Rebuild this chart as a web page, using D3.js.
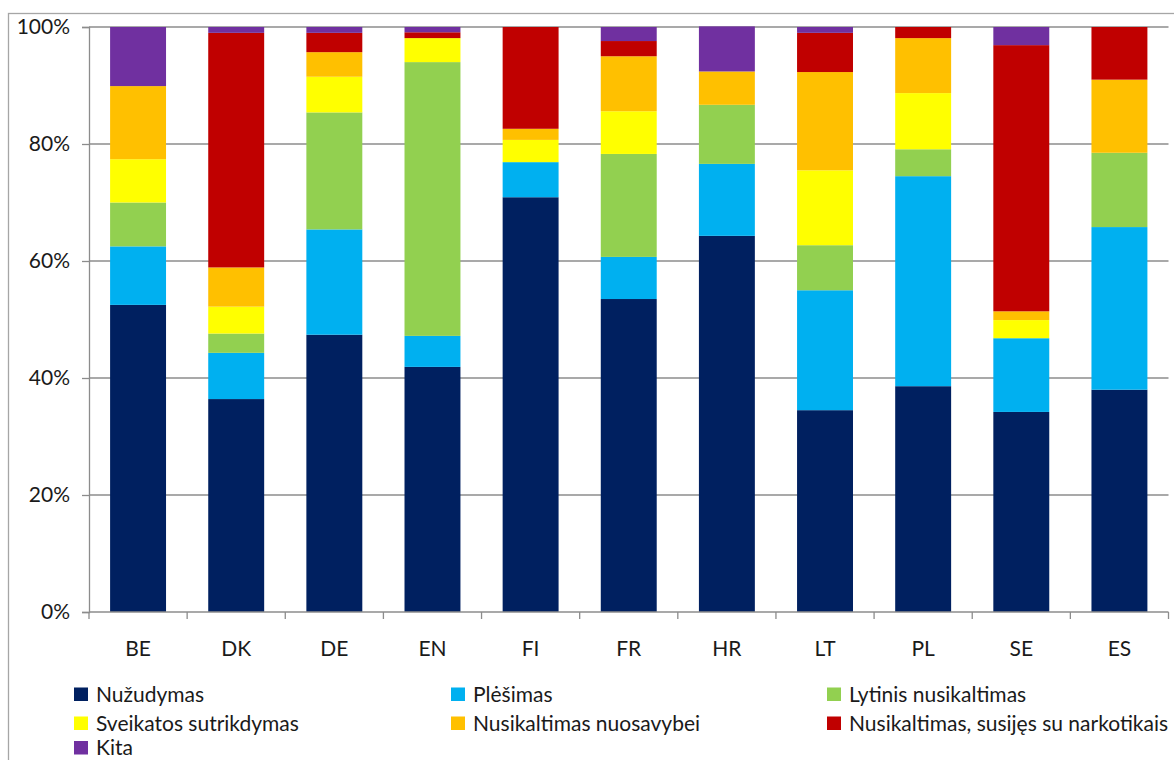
<!DOCTYPE html>
<html>
<head>
<meta charset="utf-8">
<script src="https://cdn.jsdelivr.net/npm/d3@7"></script>
<style>
  html, body { margin: 0; padding: 0; background: #fff; }
  svg { display: block; }
  text { font-family: Lato, "Open Sans", "Liberation Sans", sans-serif; fill: #1a1a1a; }
</style>
</head>
<body>
<svg id="chart" width="1174" height="760"></svg>
<script>
// Countries along the category axis
const countries = ["BE", "DK", "DE", "EN", "FI", "FR", "HR", "LT", "PL", "SE", "ES"];

// Offence types (stack order, bottom to top)
const offences = [
  "Nužudymas",
  "Plėšimas",
  "Lytinis nusikaltimas",
  "Sveikatos sutrikdymas",
  "Nusikaltimas nuosavybei",
  "Nusikaltimas, susijęs su narkotikais",
  "Kita"
];

// Share (%) of each offence type per country, in the country order above
const nuzudymas   = [52.5, 36.4, 47.4, 41.9, 70.9, 53.5, 64.3, 34.5, 38.6, 34.2, 38.0];
const plesimas    = [10.0,  7.9, 18.0,  5.3,  6.0,  7.2, 12.3, 20.5, 35.9, 12.6, 27.8];
const lytinis     = [ 7.5,  3.3, 20.0, 46.8,  0.0, 17.6, 10.1,  7.7,  4.6,  0.0, 12.7];
const sveikatos   = [ 7.4,  4.6,  6.1,  4.1,  3.8,  7.3,  0.0, 12.8,  9.6,  3.1,  0.0];
const nuosavybei  = [12.5,  6.7,  4.2,  0.0,  1.9,  9.4,  5.7, 16.8,  9.4,  1.5, 12.5];
const narkotikai  = [ 0.0, 40.1,  3.3,  1.0, 17.4,  2.6,  0.0,  6.7,  1.9, 45.5,  9.0];
const kita        = [10.1,  1.0,  1.0,  0.9,  0.0,  2.4,  7.7,  1.0,  0.0,  3.1,  0.0];

const seriesValues = [nuzudymas, plesimas, lytinis, sveikatos, nuosavybei, narkotikai, kita];
const colors = ["#002060", "#00B0F0", "#92D050", "#FFFF00", "#FFC000", "#C00000", "#7030A0"];

// Percentage axis ticks
const yTicks = [0, 20, 40, 60, 80, 100];

// Build one row per country for d3.stack
const rows = countries.map((c, i) => {
  const r = { country: c };
  offences.forEach((o, k) => { r[o] = seriesValues[k][i]; });
  return r;
});

const svg = d3.select("#chart");
const plotLeft = 89, plotRight = 1168.5, plotTop = 27, plotBottom = 612;
const fontSize = 21;

// Outer chart frame
svg.append("rect")
  .attr("x", 8.5).attr("y", 13.5)
  .attr("width", 1300).attr("height", 900)
  .attr("fill", "none").attr("stroke", "#a6a6a6").attr("stroke-width", 1.3);

const x = d3.scaleBand().domain(countries).range([plotLeft, plotRight])
  .paddingInner(0.43).paddingOuter(0.215);
const y = d3.scaleLinear().domain([0, 100]).range([plotBottom, plotTop]);

// Horizontal gridlines
svg.append("g").selectAll("line")
  .data(yTicks.filter(t => t > 0))
  .join("line")
  .attr("x1", plotLeft).attr("x2", plotRight)
  .attr("y1", d => y(d)).attr("y2", d => y(d))
  .attr("stroke", "#8c8c8c").attr("stroke-width", 1.3);

// Stacked bars
const stacked = d3.stack().keys(offences)(rows);
svg.append("g").selectAll("g")
  .data(stacked)
  .join("g")
  .attr("fill", (d, i) => colors[i])
  .selectAll("rect")
  .data(d => d)
  .join("rect")
  .attr("x", d => x(d.data.country))
  .attr("width", x.bandwidth())
  .attr("y", d => y(d[1]))
  .attr("height", d => Math.max(0, y(d[0]) - y(d[1])));

// Y axis
const yAxis = svg.append("g")
  .attr("transform", `translate(${plotLeft},0)`)
  .call(d3.axisLeft(y).tickValues(yTicks).tickFormat(d => d + "%").tickSize(7).tickPadding(12));
yAxis.select(".domain").attr("stroke", "#8c8c8c").attr("stroke-width", 1.3);
yAxis.selectAll(".tick line").attr("stroke", "#8c8c8c").attr("stroke-width", 1.3);
yAxis.selectAll(".tick text")
  .attr("font-size", fontSize).attr("fill", "#1a1a1a")
  .style("font-family", "Lato, 'Open Sans', sans-serif");

// X axis: baseline with tick marks at category boundaries
const step = x.step();
const bounds = d3.range(countries.length + 1).map(i => plotLeft + i * step);
const xAxis = svg.append("g");
xAxis.append("line")
  .attr("x1", plotLeft).attr("x2", plotRight).attr("y1", plotBottom).attr("y2", plotBottom)
  .attr("stroke", "#8c8c8c").attr("stroke-width", 1.3);
xAxis.selectAll("line.tk")
  .data(bounds)
  .join("line").attr("class", "tk")
  .attr("x1", d => d).attr("x2", d => d)
  .attr("y1", plotBottom).attr("y2", plotBottom + 7)
  .attr("stroke", "#8c8c8c").attr("stroke-width", 1.3);
xAxis.selectAll("text")
  .data(countries)
  .join("text")
  .attr("x", d => x(d) + x.bandwidth() / 2)
  .attr("y", 656)
  .attr("text-anchor", "middle")
  .attr("font-size", fontSize)
  .text(d => d);

// Legend, three columns filled row by row
const legCols = [74, 451, 827];
const legRows = [701.5, 730.5, 755];
const legend = svg.append("g").selectAll("g")
  .data(offences)
  .join("g")
  .attr("transform", (d, i) => `translate(${legCols[i % 3]},${legRows[Math.floor(i / 3)]})`);
legend.append("rect")
  .attr("x", 0).attr("y", -14).attr("width", 14).attr("height", 13.5)
  .attr("fill", (d, i) => colors[i]);
legend.append("text")
  .attr("x", 22).attr("y", 0)
  .attr("font-size", fontSize)
  .text(d => d);
</script>
</body>
</html>
